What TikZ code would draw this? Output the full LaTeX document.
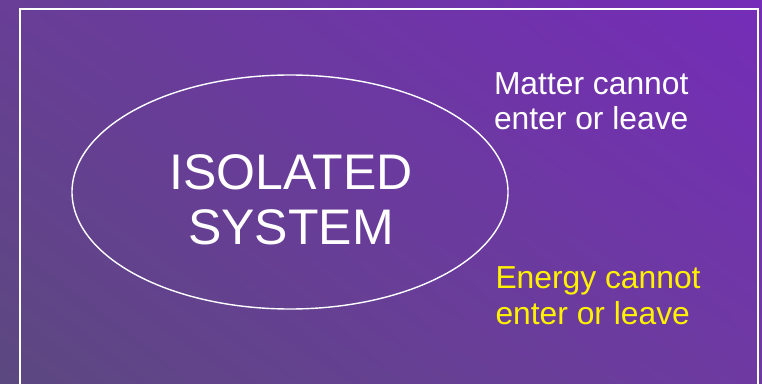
\documentclass[tikz,border=0pt]{standalone}
\usepackage{fontspec}
\setmainfont{Liberation Sans}
\usepackage{xcolor}
\usetikzlibrary{shapes.geometric,shadings}
\definecolor{bgtl}{RGB}{104,62,150}
\definecolor{bgtr}{RGB}{117,44,184}
\definecolor{bgbl}{RGB}{92,72,128}
\definecolor{bgbr}{RGB}{110,58,162}

\begin{document}
\begin{tikzpicture}[x=1pt, y=1pt, line width=1.4pt, every node/.style={inner sep=0pt, outer sep=0pt, text=white, align=left}]
    % Background
    \useasboundingbox (0,0) rectangle (762,383);
    \shade[upper left=bgtl, upper right=bgtr, lower left=bgbl, lower right=bgbr] (0,0) rectangle (762,383);

    % Frame
    \draw[white, line width=2pt] (20,-10) -- (20,374) -- (758,374) -- (758,-10);

    % System boundary
    \node[ellipse, draw=white, minimum width=436, minimum height=234] (sys) at (290,191) {};
    \node[align=center, font=\fontsize{50}{55}\selectfont] (title) at (291,183) {ISOLATED\\SYSTEM};

    % Conditions
    \node[anchor=west, font=\fontsize{31.8}{35}\selectfont] (matter) at (494,281.5) {Matter cannot\\enter or leave};
    \node[anchor=west, text=yellow, font=\fontsize{31.8}{36}\selectfont] (energy) at (495.5,87.5) {Energy cannot\\enter or leave};
\end{tikzpicture}
\end{document}
